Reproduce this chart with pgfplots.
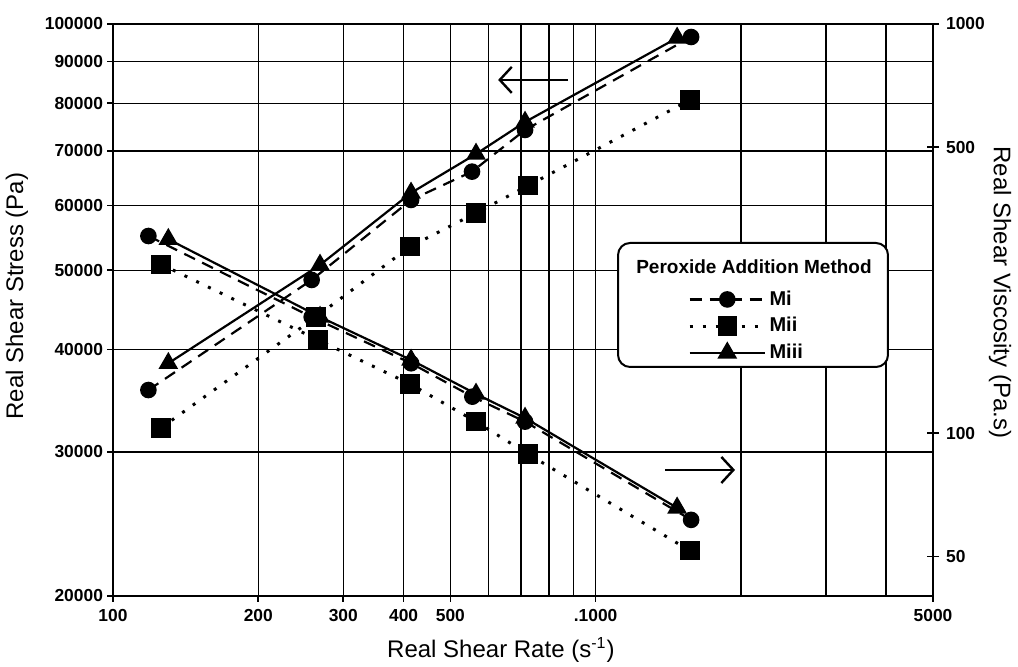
\documentclass[border=0pt]{standalone}
\usepackage{pgfplots}
\pgfplotsset{compat=1.18}
\usepackage{fontspec}
\setmainfont{Liberation Sans}
\usetikzlibrary{arrows.meta}

\pgfplotstableread{
x y
118.4 35700
258.0 48660
414.5 60950
554.4 66000
714.0 74220
1577 96400
}\MiStress
\pgfplotstableread{
x y
125.8 32090
263.4 43850
412.6 53450
565.1 58750
724.4 63450
1569 80750
}\MiiStress
\pgfplotstableread{
x y
130.2 38490
268.5 50760
414.5 62170
565.1 69360
714.0 75900
1475 96140
}\MiiiStress
\pgfplotstableread{
x y
118.4 303.3
258.0 192.3
414.5 148.2
555.3 122.8
714.0 106.7
1577 61.4
}\MiVisc
\pgfplotstableread{
x y
125.8 258.6
266.0 169.0
412.6 131.9
565.1 106.7
724.4 88.9
1569 51.6
}\MiiVisc
\pgfplotstableread{
x y
130.2 297.8
268.5 192.3
414.5 151.0
565.1 124.7
714.0 108.9
1475 65.7
}\MiiiVisc

\pgfplotsset{
  mi/.style={black, line width=1.1pt, dash pattern=on 6pt off 4pt, mark=*, mark size=3.6pt, mark options={solid, fill=black}},
  mii/.style={black, line width=1.5pt, dash pattern=on 1.5pt off 5pt, mark=square*, mark size=4.1pt, mark options={solid, fill=black}},
  miii/.style={black, line width=1.1pt, mark=triangle*, mark size=4.6pt, mark options={solid, fill=black}},
}

\begin{document}
\begin{tikzpicture}
\path[use as bounding box] (-56.5pt,-35pt) rectangle (452.5pt,298pt);
\begin{axis}[
  at={(0,0)}, anchor=south west,
  scale only axis, width=410pt, height=286pt,
  xmode=log, ymode=log,
  xmin=100, xmax=5000, ymin=20000, ymax=100000,
  xtick={100,200,300,400,500,1000,5000},
  xticklabels={100,200,300,400,500,.1000,5000},
  minor xtick={600,700,800,900,2000,3000,4000},
  ytick={20000,30000,40000,50000,60000,70000,80000,90000,100000},
  yticklabels={20000,30000,40000,50000,60000,70000,80000,90000,100000},
  xmajorgrids, xminorgrids, ymajorgrids,
  grid style={black, line width=0.75pt},
  minor grid style={black, line width=0.75pt},
  axis line style={line width=1.3pt},
  xtick pos=bottom, ytick pos=left,
  tick align=outside, major tick length=3pt, minor tick length=0pt,
  tick style={black, line width=0.8pt},
  ticklabel style={font=\bfseries\fontsize{8.7}{10}\selectfont},
  yticklabel style={xshift=1.5pt},
  xlabel={Real Shear Rate (s\textsuperscript{-1})},
  ylabel={Real Shear Stress (Pa)},
  label style={font=\fontsize{12}{14}\selectfont},
  xlabel style={at={(axis description cs:0.473,0)}, anchor=center, yshift=-27pt},
  ylabel style={at={(axis description cs:-0.1171,0.524)}, anchor=center},
  legend style={at={(axis description cs:0.701,0.540)}, anchor=north west, draw=none, fill=none,
    font=\bfseries\fontsize{10}{12}\selectfont, inner sep=0pt, row sep=1.4pt, nodes={inner sep=1.6pt}},
  legend cell align=left,
  legend image code/.code={\draw[mark repeat=2,mark phase=2,#1] plot coordinates {(0cm,0cm)(0.66cm,0cm)(1.32cm,0cm)};},
]
\addplot[mi] table {\MiStress};
\addlegendentry{Mi}
\addplot[mii] table {\MiiStress};
\addlegendentry{Mii}
\addplot[miii] table {\MiiiStress};
\addlegendentry{Miii}
\draw[line width=1pt, fill=white, rounded corners=6pt] (axis description cs:0.6159,0.6171) rectangle (axis description cs:0.9451,0.4003);
\node[font=\bfseries\fontsize{9.5}{11}\selectfont] at (axis description cs:0.7817,0.5752) {Peroxide Addition Method};
\draw[line width=1.2pt, -{Straight Barb[length=6pt,width=13pt]}] (axis cs:876.6,85430) -- (axis cs:628,85430);
\draw[line width=1.2pt, -{Straight Barb[length=6pt,width=13pt]}] (axis cs:1392.5,28510) -- (axis cs:1944.6,28510);
\end{axis}
\begin{axis}[
  at={(0,0)}, anchor=south west,
  scale only axis, width=410pt, height=286pt,
  xmode=log, ymode=log,
  xmin=100, xmax=5000, ymin=40, ymax=1000,
  axis x line=none, axis y line*=right,
  ytick={50,100,500,1000},
  yticklabels={50,100,500,1000},
  axis line style={line width=1.3pt},
  tick align=center, major tick length=6pt, minor tick length=0pt,
  tick style={black, line width=0.8pt},
  ticklabel style={font=\bfseries\fontsize{8.7}{10}\selectfont},
  ylabel={Real Shear Viscosity (Pa.s)},
  label style={font=\fontsize{12}{14}\selectfont},
  ylabel style={at={(axis description cs:1.0817,0.531)}, anchor=center, rotate=180},
]
\addplot[mi] table {\MiVisc};
\addplot[mii] table {\MiiVisc};
\addplot[miii] table {\MiiiVisc};
\end{axis}
\end{tikzpicture}
\end{document}
